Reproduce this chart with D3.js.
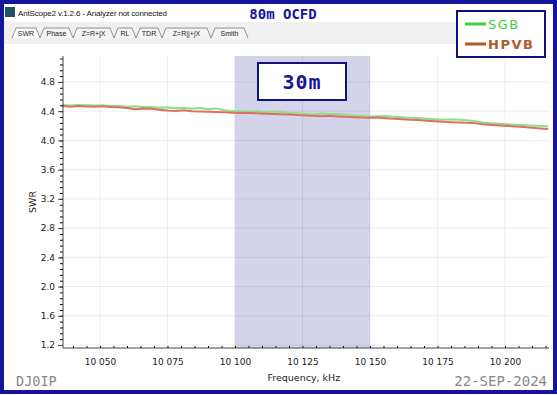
<!DOCTYPE html>
<html>
<head>
<meta charset="utf-8">
<script src="https://cdn.jsdelivr.net/npm/d3@7"></script>
<style>
    body { margin: 0; background: #fff; }
    svg { display: block; }
</style>
</head>
<body>
<div id="chart"></div>
<script>
// frequency points in kHz
var freqs = [10036, 10039, 10042, 10045, 10048, 10051, 10054, 10057, 10060, 10063,
    10066, 10069, 10072, 10075, 10078, 10081, 10084, 10087, 10090, 10093,
    10096, 10099, 10102, 10105, 10108, 10111, 10114, 10117, 10120, 10123,
    10126, 10129, 10132, 10135, 10138, 10141, 10144, 10147, 10150, 10153,
    10156, 10159, 10162, 10165, 10168, 10171, 10174, 10177, 10180, 10183,
    10186, 10189, 10192, 10195, 10198, 10201, 10204, 10207, 10210, 10213,
    10216];

var sgbSwr = [4.485, 4.478, 4.486, 4.480, 4.476, 4.482, 4.472, 4.470, 4.462, 4.466,
    4.456, 4.458, 4.448, 4.452, 4.440, 4.446, 4.432, 4.444, 4.428, 4.438,
    4.412, 4.398, 4.404, 4.392, 4.398, 4.386, 4.394, 4.388, 4.376, 4.370,
    4.362, 4.356, 4.368, 4.360, 4.362, 4.352, 4.340, 4.334, 4.326, 4.330,
    4.334, 4.322, 4.318, 4.310, 4.306, 4.296, 4.288, 4.282, 4.288, 4.282,
    4.276, 4.262, 4.246, 4.236, 4.228, 4.220, 4.214, 4.208, 4.204, 4.198,
    4.192];

var hpvbSwr = [4.470, 4.462, 4.470, 4.464, 4.460, 4.466, 4.456, 4.452, 4.444, 4.428,
    4.438, 4.432, 4.420, 4.410, 4.404, 4.412, 4.400, 4.396, 4.392, 4.388,
    4.384, 4.380, 4.376, 4.378, 4.370, 4.366, 4.362, 4.358, 4.354, 4.346,
    4.342, 4.338, 4.330, 4.336, 4.328, 4.322, 4.318, 4.312, 4.310, 4.312,
    4.304, 4.296, 4.290, 4.284, 4.280, 4.270, 4.262, 4.256, 4.250, 4.246,
    4.240, 4.234, 4.222, 4.212, 4.204, 4.198, 4.190, 4.182, 4.174, 4.164,
    4.156];

var xTicks = [10050, 10075, 10100, 10125, 10150, 10175, 10200];
var yTicks = [1.2, 1.6, 2.0, 2.4, 2.8, 3.2, 3.6, 4.0, 4.4, 4.8];
var tabNames = ["SWR", "Phase", "Z=R+jX", "RL", "TDR", "Z=R||+jX", "Smith"];
var bandRange = [10100, 10150];

var W = 557, H = 395;
var navy = "#14149c";

var svg = d3.select("#chart")
    .append("svg")
    .attr("width", W)
    .attr("height", H);

// window header
svg.append("rect")
    .attr("x", 0).attr("y", 0).attr("width", W).attr("height", H)
    .attr("fill", "#fff");

svg.append("rect")
    .attr("x", 4).attr("y", 22).attr("width", 452).attr("height", 22)
    .attr("fill", "#f0f0f0");

svg.append("rect")
    .attr("x", 5).attr("y", 7).attr("width", 10).attr("height", 10)
    .attr("fill", "#1f4f6f");

svg.append("text")
    .attr("x", 18).attr("y", 16)
    .attr("font-family", "Liberation Sans, Arial, sans-serif")
    .attr("font-size", 8)
    .attr("textLength", 149)
    .attr("fill", "#111")
    .text("AntScope2 v.1.2.6 - Analyzer not connected");

// tabs
var tabEdges = [12, 40, 73, 114, 136, 162, 211, 248];
var tabs = svg.append("g");
tabNames.forEach(function (name, i) {
    var x0 = tabEdges[i], x1 = tabEdges[i + 1];
    tabs.append("path")
        .attr("d", "M" + x0 + ",38 L" + (x0 + 4) + ",28 L" + (x1 - 4) + ",28 L" + x1 + ",38")
        .attr("fill", i === 0 ? "#fff" : "#f4f4f4")
        .attr("stroke", "#777")
        .attr("stroke-width", 0.8);
    tabs.append("text")
        .attr("x", (x0 + x1) / 2).attr("y", 36)
        .attr("text-anchor", "middle")
        .attr("font-family", "Liberation Sans, Arial, sans-serif")
        .attr("font-size", 7)
        .attr("fill", "#222")
        .text(name);
});

svg.append("text")
    .attr("x", 283).attr("y", 19)
    .attr("text-anchor", "middle")
    .attr("font-family", "DejaVu Sans Mono, monospace")
    .attr("font-weight", "bold")
    .attr("font-size", 14)
    .attr("fill", navy)
    .text("80m OCFD");

// plot area
var margin = { top: 56, right: 8, bottom: 47, left: 63 },
    width = W - margin.left - margin.right,
    height = H - margin.top - margin.bottom;

var plot = svg.append("g")
    .attr("transform", "translate(" + margin.left + "," + margin.top + ")");

var x = d3.scaleLinear()
    .domain([10036.3, 10216.3])
    .range([0, width]);

var y = d3.scaleLinear()
    .domain([1.159, 5.155])
    .range([height, 0]);

// highlighted band
plot.append("rect")
    .attr("x", x(bandRange[0]))
    .attr("y", 0)
    .attr("width", x(bandRange[1]) - x(bandRange[0]))
    .attr("height", height)
    .attr("fill", "#d3d3ea");

// gridlines
plot.append("g")
    .selectAll("line")
    .data(xTicks)
    .enter()
    .append("line")
    .attr("x1", d => x(d)).attr("x2", d => x(d))
    .attr("y1", 0).attr("y2", height)
    .attr("stroke", "#000")
    .attr("stroke-opacity", 0.07);

plot.append("g")
    .selectAll("line")
    .data(yTicks)
    .enter()
    .append("line")
    .attr("x1", 0).attr("x2", width)
    .attr("y1", d => y(d)).attr("y2", d => y(d))
    .attr("stroke", "#000")
    .attr("stroke-opacity", 0.07);

// the two SWR curves
var line = d3.line()
    .x(function (d, i) { return x(freqs[i]); })
    .y(function (d) { return y(d); });

plot.append("path")
    .datum(sgbSwr)
    .attr("d", line)
    .attr("fill", "none")
    .attr("stroke", "#8ae08a")
    .attr("stroke-width", 2);

plot.append("path")
    .datum(hpvbSwr)
    .attr("d", line)
    .attr("fill", "none")
    .attr("stroke", "#e0705e")
    .attr("stroke-width", 2);

// axes
var minorX = d3.range(10040, 10216, 5);
var minorY = d3.range(1.2, 5.15, 0.08);

plot.append("g")
    .attr("transform", "translate(0," + height + ")")
    .call(d3.axisTop(x).tickValues(minorX).tickSize(2).tickFormat(""))
    .call(g => g.select(".domain").remove());

plot.append("g")
    .call(d3.axisLeft(y).tickValues(minorY).tickSize(3).tickFormat(""))
    .call(g => g.select(".domain").remove());

var xAxis = plot.append("g")
    .attr("transform", "translate(0," + height + ")")
    .call(d3.axisBottom(x)
        .tickValues(xTicks)
        .tickSize(0)
        .tickPadding(11)
        .tickFormat(d => "10 " + String(d).slice(2)));

var yAxis = plot.append("g")
    .call(d3.axisLeft(y)
        .tickValues(yTicks)
        .tickSize(5)
        .tickPadding(3)
        .tickFormat(d3.format(".1f")));

[xAxis, yAxis].forEach(function (g) {
    g.selectAll("path, line").attr("stroke", "#444");
    g.selectAll("text")
        .attr("font-family", "DejaVu Sans, sans-serif")
        .attr("font-size", 9)
        .attr("fill", "#222");
});
xAxis.select(".domain").attr("d", "M0,0H" + width);
yAxis.select(".domain").attr("d", "M0,0V" + height);

plot.append("text")
    .attr("x", x(10125.5)).attr("y", height + 33)
    .attr("text-anchor", "middle")
    .attr("font-family", "DejaVu Sans, sans-serif")
    .attr("font-size", 9.5)
    .attr("fill", "#222")
    .text("Frequency, kHz");

plot.append("text")
    .attr("transform", "rotate(-90)")
    .attr("x", -height / 2).attr("y", -27)
    .attr("text-anchor", "middle")
    .attr("font-family", "DejaVu Sans, sans-serif")
    .attr("font-size", 9.5)
    .attr("fill", "#222")
    .text("SWR");

// band label box
svg.append("rect")
    .attr("x", 258).attr("y", 63).attr("width", 88).attr("height", 37)
    .attr("fill", "#fff")
    .attr("stroke", "#10107e")
    .attr("stroke-width", 2);

svg.append("text")
    .attr("x", 302).attr("y", 89)
    .attr("text-anchor", "middle")
    .attr("font-family", "DejaVu Sans Mono, monospace")
    .attr("font-weight", "bold")
    .attr("font-size", 20)
    .attr("letter-spacing", 1)
    .attr("fill", navy)
    .text("30m");

// legend
svg.append("rect")
    .attr("x", 457).attr("y", 11).attr("width", 88).attr("height", 46)
    .attr("fill", "#fff")
    .attr("stroke", "#10107e")
    .attr("stroke-width", 2);

var legend = [
    { name: "SGB", color: "#3ecf3e", weight: "normal", y: 24 },
    { name: "HPVB", color: "#b4582a", weight: "bold", y: 44 }
];
legend.forEach(function (d) {
    svg.append("line")
        .attr("x1", 465).attr("x2", 486)
        .attr("y1", d.y).attr("y2", d.y)
        .attr("stroke", d.color)
        .attr("stroke-width", 3);
    svg.append("text")
        .attr("x", 488).attr("y", d.y + 5)
        .attr("font-family", "DejaVu Sans, sans-serif")
        .attr("font-weight", d.weight)
        .attr("font-size", 13)
        .attr("letter-spacing", 1.5)
        .attr("fill", d.color)
        .text(d.name);
});

// signature and date
svg.append("text")
    .attr("x", 16).attr("y", 386)
    .attr("font-family", "DejaVu Sans Mono, monospace")
    .attr("font-size", 13.5)
    .attr("fill", "#888")
    .text("DJ0IP");

svg.append("text")
    .attr("x", 547).attr("y", 386)
    .attr("text-anchor", "end")
    .attr("font-family", "DejaVu Sans Mono, monospace")
    .attr("font-size", 14)
    .attr("fill", "#888")
    .text("22-SEP-2024");

// outer frame
svg.append("rect")
    .attr("x", 2).attr("y", 2).attr("width", W - 4).attr("height", H - 5)
    .attr("fill", "none")
    .attr("stroke", navy)
    .attr("stroke-width", 4);
</script>
</body>
</html>
